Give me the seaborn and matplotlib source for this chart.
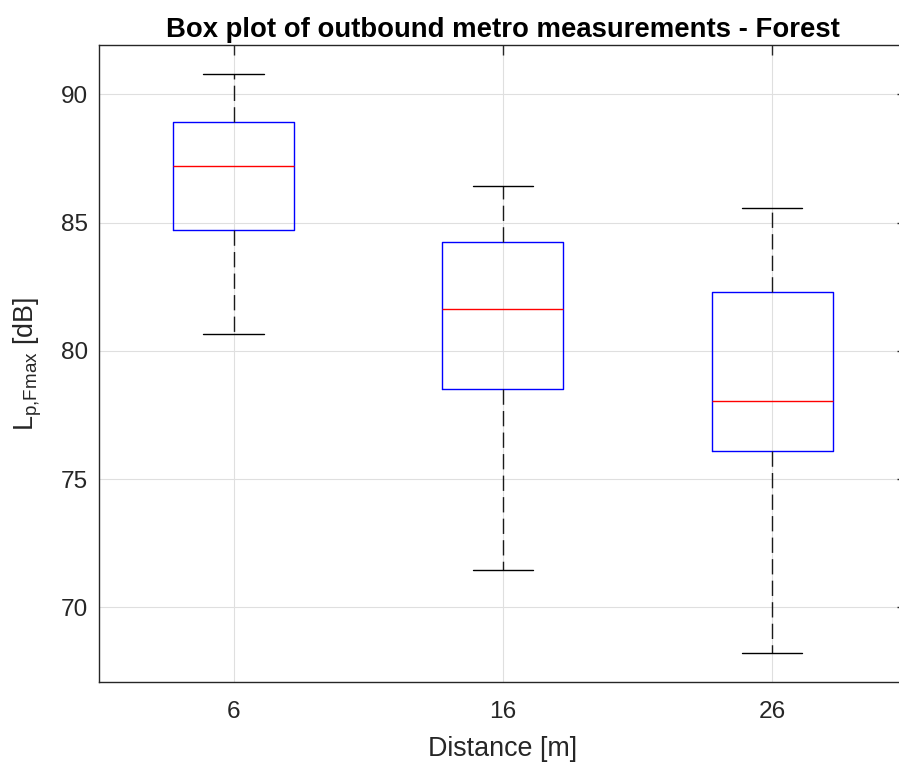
import numpy as np
import pandas as pd
import matplotlib
matplotlib.use("Agg")
import matplotlib.pyplot as plt
import seaborn as sns

# Five-number summaries of L_p,Fmax per measurement distance
distances = ["6", "16", "26"]
whisker_low = [80.64, 71.45, 68.22]
quartile_1 = [84.69, 78.53, 76.09]
median = [87.21, 81.64, 78.04]
quartile_3 = [88.92, 84.23, 82.31]
whisker_high = [90.79, 86.43, 85.56]

rows = []
for i, d in enumerate(distances):
    for v in (whisker_low[i], quartile_1[i], median[i], quartile_3[i], whisker_high[i]):
        rows.append({"Distance": d, "Level": v})
df = pd.DataFrame(rows)

sns.set_style("white")
plt.rcParams["font.family"] = ["Liberation Sans", "DejaVu Sans"]
plt.rcParams["mathtext.fontset"] = "custom"
plt.rcParams["mathtext.rm"] = "Liberation Sans"
plt.rcParams["mathtext.it"] = "Liberation Sans:italic"
plt.rcParams["mathtext.bf"] = "Liberation Sans:bold"

axis_color = "#262626"

fig = plt.figure(figsize=(8.99, 7.64), dpi=100)
ax = fig.add_axes([0.1101, 0.1073, 0.8985, 0.8338])

sns.boxplot(data=df, x="Distance", y="Level", order=distances, width=0.45,
            fill=False, whis=np.inf, showfliers=False, linewidth=1.0,
            color="blue", ax=ax)

bp = ax.containers[0]
for b in bp.boxes:
    if hasattr(b, "set_edgecolor"):
        b.set_edgecolor("blue")
        b.set_facecolor("none")
    else:
        b.set_color("blue")
    b.set_linewidth(1.0)
for m in bp.medians:
    m.set_color("red")
    m.set_linewidth(1.0)
for w in bp.whiskers:
    w.set_color("#1a1a1a")
    w.set_linewidth(1.0)
    w.set_linestyle((0, (11, 4.5)))
for c in bp.caps:
    c.set_color("black")
    c.set_linewidth(1.0)
    c.set_linestyle("-")

lo = min(whisker_low)
hi = max(whisker_high)
pad = 0.05 * (hi - lo)
ax.set_ylim(lo - pad, hi + pad)
ax.set_xlim(-0.5, 2.5)
ax.set_yticks([70, 75, 80, 85, 90])

ax.set_axisbelow(True)
ax.grid(True, color="#dfdfdf", linewidth=0.8)

for s in ax.spines.values():
    s.set_color(axis_color)
    s.set_linewidth(1.0)
    s.set_visible(True)

ax.tick_params(axis="both", which="both", direction="in", top=True, right=True,
               length=7.2, width=1.0, color=axis_color, labelcolor=axis_color,
               labelsize=17.6)
ax.tick_params(axis="x", pad=14)
ax.tick_params(axis="y", pad=8)

ax.set_xlabel("Distance [m]", fontsize=19.4, color=axis_color, labelpad=9)
ax.set_ylabel(r"L$_{\mathrm{p{,}Fmax}}$ [dB]", fontsize=19.4, color=axis_color, labelpad=12)
ax.set_title("Box plot of outbound metro measurements - Forest",
             fontsize=19.8, fontweight="bold", color="black", pad=6)

fig.savefig("out.png", dpi=100)
